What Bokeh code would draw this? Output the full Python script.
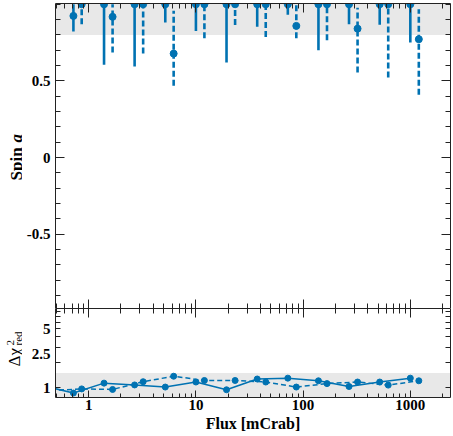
import math
from bokeh.plotting import figure
from bokeh.models import (FixedTicker, LinearAxis, LogAxis, BoxAnnotation,
                          CustomJSTickFormatter, Range1d, ColumnDataSource)
from bokeh.core.properties import value
from bokeh.layouts import column, row
from bokeh.embed import file_html
from bokeh.resources import INLINE

# ---------------- data ----------------
flux_solid = [0.72, 1.39, 2.68, 5.18, 10.0, 19.3, 37.3, 72.0, 139.0, 268.0, 518.0, 1000.0]
flux_dashed = [0.86, 1.67, 3.22, 6.2, 12.0, 23.2, 44.8, 86.4, 167.0, 322.0, 622.0, 1200.0]

spin_solid = [0.924, 1.0, 1.0, 1.0, 1.0, 1.0, 1.0, 1.0, 1.0, 1.0, 1.0, 1.0]
spin_solid_lo = [0.822, 0.605, 0.594, 0.881, 0.826, 0.62, 0.853, 0.931, 0.70, 0.87, 0.866, 0.75]
spin_solid_hi = [1.0, 1.0, 1.0, 1.0, 1.0, 1.0, 1.0, 1.0, 1.0, 1.0, 1.0, 1.0]

spin_dashed = [1.0, 0.918, 1.0, 0.678, 1.0, 1.0, 1.0, 0.859, 1.0, 0.841, 1.0, 0.772]
spin_dashed_lo = [0.870, 0.685, 0.678, 0.468, 0.779, 0.864, 0.787, 0.779, 0.766, 0.554, 0.522, 0.409]
spin_dashed_hi = [1.0, 1.0, 1.0, 0.957, 1.0, 1.0, 1.0, 1.0, 1.0, 0.978, 1.0, 0.968]

chi_flux_solid = [0.37] + flux_solid
chi_solid = [1.06, 0.866, 1.135, 1.08, 1.02, 1.17, 0.947, 1.27, 1.30, 1.21, 1.035, 1.17, 1.30]
chi_flux_dashed = [0.445] + flux_dashed
chi_dashed = [0.93, 0.97, 0.955, 1.18, 1.37, 1.22, 1.22, 1.17, 1.02, 1.12, 1.17, 1.075, 1.21]

x_major = [1, 10, 100, 1000]
x_minor = [0.5, 0.6, 0.7, 0.8, 0.9, 2, 3, 4, 5, 6, 7, 8, 9, 20, 30, 40, 50, 60, 70, 80, 90,
           200, 300, 400, 500, 600, 700, 800, 900, 2000]
spin_major = [-0.5, 0, 0.5]
spin_minor = [-0.9, -0.8, -0.7, -0.6, -0.4, -0.3, -0.2, -0.1, 0.1, 0.2, 0.3, 0.4,
              0.6, 0.7, 0.8, 0.9, 1.0]
chi_major = [1, 2.5, 5]
chi_minor = [1, 2, 3, 4, 5, 6, 7, 8]

spin_band_low = 0.8
chi_band_high = 1.5

x_title = "Flux [mCrab]"
spin_title = ["Spin", "a"]
chi_title = ["Δχ", "2", "red"]

# ---------------- style ----------------
C = "#0072B2"
BAND = "#e8e8e8"
AX = "#222222"
FONT = "Liberation Serif"
LW = 22            # width of the strip that holds the rotated y titles
TOTAL_W, TOTAL_H = 453, 436
H1 = 308
H2 = TOTAL_H - H1

xr = Range1d(0.49, 2370)
fmt = CustomJSTickFormatter(code="return String(tick)")


def style_axis(ax, ticks, minor, show_labels, maj_in, min_in):
    ax.ticker = FixedTicker(ticks=ticks, minor_ticks=minor)
    ax.axis_line_color = AX
    ax.major_tick_line_color = AX
    ax.minor_tick_line_color = AX
    ax.major_tick_in = maj_in
    ax.major_tick_out = 0
    ax.minor_tick_in = min_in
    ax.minor_tick_out = 0
    ax.formatter = fmt
    if show_labels:
        ax.major_label_text_font = FONT
        ax.major_label_text_font_style = "bold"
        ax.major_label_text_font_size = "15px"
        ax.major_label_text_color = "black"
        ax.major_label_standoff = 5
    else:
        ax.major_label_text_font_size = "0px"
        ax.major_label_standoff = 0
        ax.major_label_text_alpha = 0


# ---------------- top panel ----------------
p1 = figure(width=TOTAL_W - LW, height=H1, x_axis_type="log", x_range=xr,
            y_range=Range1d(-0.985, 1.005), output_backend="svg",
            toolbar_location=None, min_border_left=55 - LW, min_border_right=3,
            min_border_top=3, min_border_bottom=0)
p1.outline_line_color = None
p1.grid.visible = False
p1.add_layout(LogAxis(), "above")
p1.add_layout(LinearAxis(), "right")

style_axis(p1.below[0], x_major, x_minor, False, 9, 5)
style_axis(p1.above[0], x_major, x_minor, False, 9, 5)
style_axis(p1.left[0], spin_major, spin_minor, True, 9, 5)
style_axis(p1.right[0], spin_major, spin_minor, False, 9, 5)

p1.add_layout(BoxAnnotation(bottom=spin_band_low, fill_color=BAND, fill_alpha=1.0,
                            line_alpha=0, level="underlay"))

src_s = ColumnDataSource(dict(x=flux_solid, y=spin_solid, lo=spin_solid_lo, hi=spin_solid_hi))
src_d = ColumnDataSource(dict(x=flux_dashed, y=spin_dashed, lo=spin_dashed_lo, hi=spin_dashed_hi))

p1.segment(x0="x", y0="lo", x1="x", y1="hi", source=src_s, line_color=C,
           line_width=2.6, line_cap="butt")
p1.segment(x0="x", y0="lo", x1="x", y1="hi", source=src_d, line_color=C,
           line_width=2.6, line_dash="6 3", line_cap="butt")
p1.scatter(x="x", y="y", source=src_s, size=7, color=C)
p1.scatter(x="x", y="y", source=src_d, size=7, color=C)

# ---------------- bottom panel ----------------
p2 = figure(width=TOTAL_W - LW, height=H2, x_axis_type="log", y_axis_type="log", x_range=xr,
            y_range=Range1d(0.767, 8.69), output_backend="svg",
            toolbar_location=None, min_border_left=55 - LW, min_border_right=3,
            min_border_top=0, min_border_bottom=39)
p2.outline_line_color = None
p2.grid.visible = False
p2.add_layout(LogAxis(), "above")
p2.add_layout(LogAxis(), "right")

style_axis(p2.below[0], x_major, x_minor, True, 7, 4)
p2.below[0].major_label_standoff = 2
p2.below[0].axis_label = x_title
p2.below[0].axis_label_text_font = FONT
p2.below[0].axis_label_text_font_style = "bold"
p2.below[0].axis_label_text_font_size = "16px"
p2.below[0].axis_label_text_color = "black"
p2.below[0].axis_label_standoff = 2
style_axis(p2.above[0], x_major, x_minor, False, 9, 5)
style_axis(p2.left[0], chi_major, chi_minor, True, 0, 5)
style_axis(p2.right[0], chi_major, chi_minor, False, 0, 5)

p2.add_layout(BoxAnnotation(top=chi_band_high, fill_color=BAND, fill_alpha=1.0,
                            line_alpha=0, level="underlay"))

p2.line(chi_flux_solid, chi_solid, line_color=C, line_width=1.5)
p2.line(chi_flux_dashed, chi_dashed, line_color=C, line_width=1.5, line_dash="5 3")
p2.scatter(chi_flux_solid, chi_solid, size=6, color=C)
p2.scatter(chi_flux_dashed, chi_dashed, size=6, color=C)

# ---------------- strip with the rotated y titles ----------------
lf = figure(width=LW, height=TOTAL_H, x_range=Range1d(0, LW), y_range=Range1d(TOTAL_H, 0),
            x_axis_location=None, y_axis_location=None, output_backend="svg",
            toolbar_location=None, min_border=0)
lf.outline_line_color = None
lf.grid.visible = False

rot = math.pi / 2
lf.text(x=[16], y=[180], text=[spin_title[0]], angle=rot, text_font=value(FONT),
        text_font_style="bold", text_font_size="17px", text_color="black",
        text_align="left", text_baseline="alphabetic")
lf.text(x=[16], y=[142], text=[spin_title[1]], angle=rot, text_font=value(FONT),
        text_font_style="bold italic", text_font_size="17px", text_color="black",
        text_align="left", text_baseline="alphabetic")
lf.text(x=[14], y=[366], text=[chi_title[0]], angle=rot, text_font=value(FONT),
        text_font_size="17px", text_color="black",
        text_align="left", text_baseline="alphabetic")
lf.text(x=[10], y=[345], text=[chi_title[1]], angle=rot, text_font=value(FONT),
        text_font_size="11px", text_color="black",
        text_align="left", text_baseline="alphabetic")
lf.text(x=[17.5], y=[345], text=[chi_title[2]], angle=rot, text_font=value(FONT),
        text_font_size="11px", text_color="black",
        text_align="left", text_baseline="alphabetic")

layout = row(lf, column(p1, p2, spacing=0), spacing=0)

open("out.html", "w").write(file_html(layout, INLINE))
